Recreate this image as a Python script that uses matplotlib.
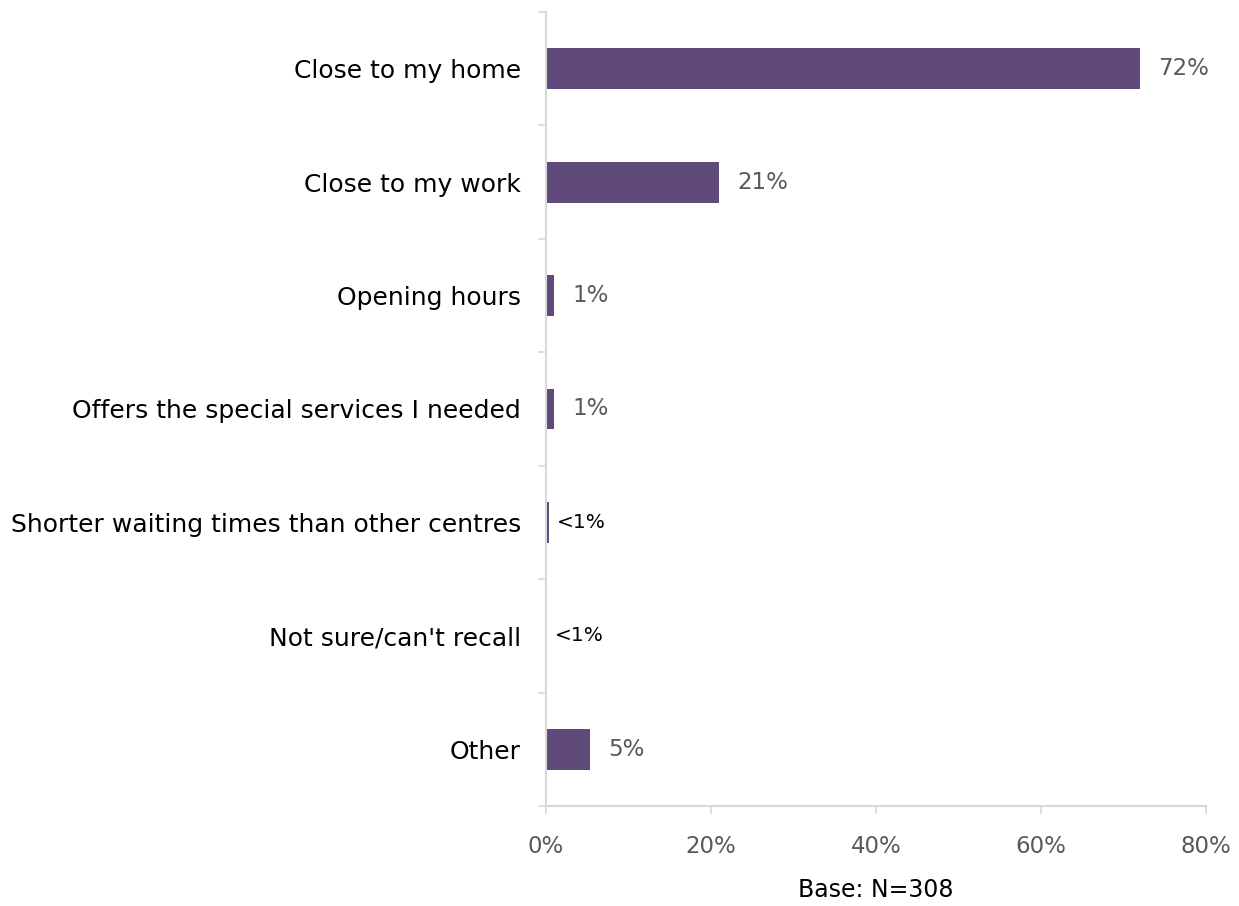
import numpy as np
import matplotlib.pyplot as plt

plt.rcParams['font.family'] = ['DejaVu Sans']

# survey responses, top to bottom
reasons = ['Close to my home', 'Close to my work', 'Opening hours',
           'Offers the special services I needed',
           'Shorter waiting times than other centres',
           "Not sure/can't recall", 'Other']
shares = [72, 21, 1, 1, 0.3, 0.05, 5.3]
share_labels = ['72%', '21%', '1%', '1%', '<1%', '<1%', '5%']
x_ticks = [0, 20, 40, 60, 80]

bar_color = '#604a7b'
axis_color = '#d9d9d9'

fig = plt.figure(figsize=(12.39, 9.06), dpi=100)
ax = fig.add_axes([0.4407, 0.1104, 0.5327, 0.8764])

y = np.arange(len(reasons))
ax.barh(y, shares, height=0.36, color=bar_color)
ax.set_ylim(len(reasons) - 0.5, -0.5)
ax.set_xlim(0, 80)

for yi, v, lab in zip(y, shares, share_labels):
    if lab.startswith('<'):
        ax.annotate(lab, (v, yi), xytext=(6, 0), textcoords='offset points',
                    va='center', ha='left', fontsize=14.5, color='black')
    else:
        ax.annotate(lab, (v, yi), xytext=(13, 0), textcoords='offset points',
                    va='center', ha='left', fontsize=16.5, color='#595959')

ax.set_yticks(y)
ax.set_yticklabels(reasons, fontsize=18, color='black')
ax.set_yticks(np.arange(-0.5, len(reasons)), minor=True)
ax.tick_params(axis='y', which='major', length=0, pad=18)
ax.tick_params(axis='y', which='minor', length=6, width=1.2, color=axis_color)

ax.set_xticks(x_ticks)
ax.set_xticklabels([f'{t}%' for t in x_ticks], fontsize=16.5, color='#595959')
ax.tick_params(axis='x', length=6, width=1.2, color=axis_color, pad=15)

ax.set_xlabel('Base: N=308', fontsize=17, color='black', labelpad=14)

for side in ['top', 'right']:
    ax.spines[side].set_visible(False)
for side in ['left', 'bottom']:
    ax.spines[side].set_color(axis_color)
    ax.spines[side].set_linewidth(1.5)

fig.savefig('out.png', dpi=100)
